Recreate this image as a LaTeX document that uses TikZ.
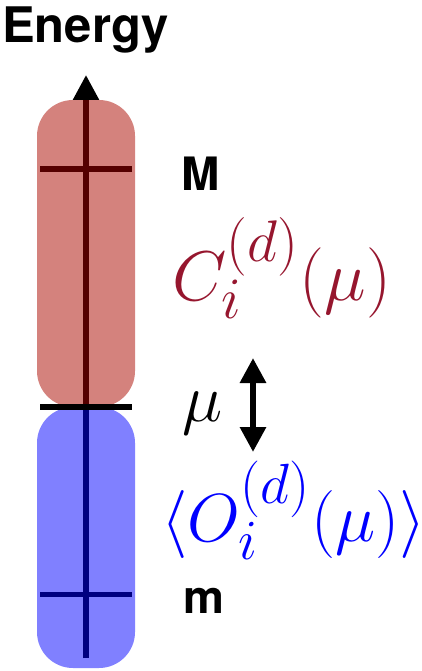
\documentclass[tikz,border=0pt]{standalone}
\usepackage{fontspec}
\setsansfont{TeX Gyre Heros}
\usetikzlibrary{arrows.meta}
\definecolor{boxred}{RGB}{212,130,125}
\definecolor{boxblue}{RGB}{128,128,255}
\definecolor{linered}{RGB}{85,0,0}
\definecolor{lineblue}{RGB}{0,0,128}
\definecolor{textred}{RGB}{150,22,46}
\definecolor{textblue}{RGB}{0,0,255}
\tikzset{
  bigbox/.style={rounded corners=36pt, draw=none},
  lbl/.style={font=\sffamily\bfseries\fontsize{46}{50}\selectfont, anchor=base west, inner sep=0pt},
  mth/.style={font=\Huge, scale=2.733, anchor=base west, inner sep=0pt},
  axis/.style={line width=5.5pt},
  tick/.style={line width=5pt},
  tip/.style={-{Triangle[width=25pt,length=25pt]}},
}
\begin{document}
\begin{tikzpicture}[x=1pt,y=-1pt]
\useasboundingbox (0,0) rectangle (422,671);
% boxes
\fill[boxred, bigbox] (37,100) rectangle (135,407);
\fill[boxblue, bigbox] (37,407) rectangle (135,668);
% coordinates
\coordinate (top) at (86,75);
\coordinate (tipbase) at (86,100);
\coordinate (mid) at (86,407);
\coordinate (bot) at (86,658);
\coordinate (tMl) at (40,169);
\coordinate (tMr) at (132,169);
\coordinate (tml) at (40,594);
\coordinate (tmr) at (132,594);
\coordinate (tcl) at (40,407);
\coordinate (tcr) at (132,407);
\coordinate (dtop) at (253,358);
\coordinate (dbot) at (253,452);
% axis
\draw[axis, lineblue] (bot) -- (mid);
\draw[axis, linered] (mid) -- (tipbase);
\draw[axis, black, tip] (tipbase) -- (top);
\draw[tick, linered] (tMl) -- (tMr);
\draw[tick, lineblue] (tml) -- (tmr);
\draw[line width=6pt, black] (tcl) -- (tcr);
% labels
\node[lbl, font=\sffamily\bfseries\fontsize{49}{52}\selectfont] (energy) at (2,43) {Energy};
\node[lbl] (M) at (181,190) {M};
\node[lbl] (m) at (183,613) {m};
\node[mth, scale=1.035, text=textred] (C) at (172,300) {$C_i^{(d)}(\mu)$};
\node[mth] (mu) at (182,421) {$\mu$};
\node[mth, text=textblue] (O) at (161,541) {$\langle O_i^{(d)}(\mu)\rangle$};
\draw[line width=6pt, {Triangle[width=25pt,length=25pt]}-{Triangle[width=25pt,length=25pt]}] (dtop) -- (dbot);
\end{tikzpicture}
\end{document}
